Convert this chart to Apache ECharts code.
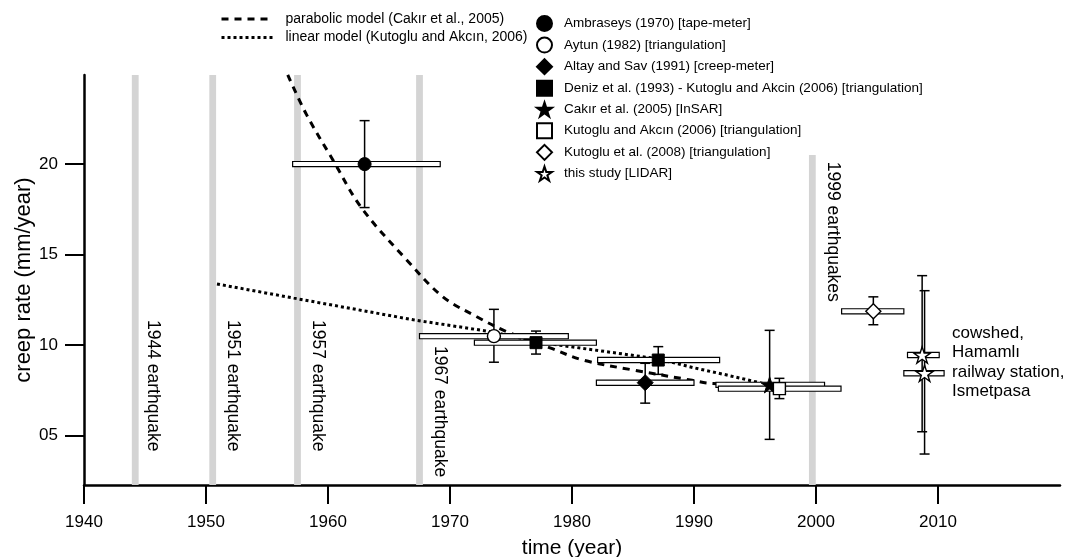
<!DOCTYPE html>
<html><head><meta charset="utf-8">
<script src="https://cdn.jsdelivr.net/npm/echarts@6/dist/echarts.min.js"></script>
<style>html,body{margin:0;padding:0;background:#fff}#c{width:1068px;height:557px}</style>
</head><body><div id="c"></div>
<script>
const FONT = "'Liberation Sans', Arial, Helvetica, sans-serif";

// measurement rows: [year, creepRate, rateLow, rateHigh, periodFrom, periodTo]
const ambraseys   = [[1963.0, 20.0, 17.6, 22.4, 1957.1, 1969.2]];
const aytun       = [[1973.6, 10.5, 9.06, 11.98, 1967.5, 1979.7]];
const altaySav    = [[1986.0, 7.93, 6.8, 9.0, 1982.0, 1990.0]];
const deniz       = [[1977.05, 10.14, 9.51, 10.78, 1972.0, 1982.0],
                     [1987.07, 9.18, 8.39, 9.92, 1982.1, 1992.1]];
const cakir       = [[1996.2, 7.81, 4.8, 10.82, 1991.8, 2000.7]];
const kutoglu2006 = [[1997.0, 7.6, 7.05, 8.17, 1992.0, 2002.05]];
const kutoglu2008 = [[2004.7, 11.87, 11.13, 12.67, 2002.1, 2007.2]];
const lidar       = [[2008.7, 9.46, 5.22, 13.84, 2007.5, 2010.1],
                     [2008.9, 8.45, 3.99, 13.01, 2007.2, 2010.5]];

// model curves
const parabolicModel = [[1956.7, 24.93], [1958.25, 22.72], [1960.4, 20.23], [1962.75, 17.58],
  [1966.45, 14.71], [1969.4, 12.68], [1972.2, 11.57], [1974.65, 10.75], [1978.2, 9.85],
  [1980.9, 9.18], [1985.0, 8.63], [1989.7, 8.08], [1991.3, 7.9], [1996.2, 7.8]];
const linearModel = [[1950.9, 13.38], [1957.2, 12.6], [1967.0, 11.4], [1973.3, 10.75],
  [1977.1, 10.2], [1979.0, 10.0], [1987.0, 9.25], [1990.0, 8.75], [1992.7, 8.35], [1996.2, 7.8]];

// earthquakes
const quakeYears = [1944.2, 1950.55, 1957.5, 1967.5, 1999.7];
const quakeTops  = [24.92, 24.92, 24.92, 24.92, 20.5];
const quakeLabels = ['1944 earthquake', '1951 earthquake', '1957 earthquake', '1967 earthquake', '1999 earthquakes'];
const quakeLabelX = [1945.66, 1952.24, 1959.2, 1969.18, 2001.39];
const quakeLabelY = [11.39, 11.39, 11.39, 9.96, 20.13];

const siteNotes  = ['cowshed,', 'Hamamlı', 'railway station,', 'Ismetpasa'];
const siteNoteX  = [2011.15, 2011.15, 2011.15, 2011.15];
const siteNoteY  = [10.68, 9.63, 8.53, 7.48];

const yTicks = [5, 10, 15, 20];
const X_MIN = 1940, X_MAX = 2020, Y_MIN = 2.28, Y_MAX = 24.92;

const names = {
  parab: 'parabolic model (Cakır et al., 2005)',
  lin: 'linear model (Kutoglu and Akcın, 2006)',
  amb: 'Ambraseys (1970) [tape-meter]',
  ayt: 'Aytun (1982) [triangulation]',
  alt: 'Altay and Sav (1991) [creep-meter]',
  den: 'Deniz et al. (1993) - Kutoglu and Akcin (2006) [triangulation]',
  cak: 'Cakır et al. (2005) [InSAR]',
  k06: 'Kutoglu and Akcın (2006) [triangulation]',
  k08: 'Kutoglu et al. (2008) [triangulation]',
  lid: 'this study [LIDAR]'
};

const STAR = 'path://M100,0 L122.45,69.1 L195.1,69.1 L136.3,111.8 L158.8,180.9 L100,138.2 L41.2,180.9 L63.7,111.8 L4.9,69.1 L77.55,69.1 Z';
const allRows = [].concat(ambraseys, aytun, altaySav, deniz, cakir, kutoglu2006, kutoglu2008, lidar);

const filled = { color: '#000', borderColor: '#000', borderWidth: 1, opacity: 1 };
const open = { color: '#fff', borderColor: '#000', borderWidth: 1.4, opacity: 1 };

function scatter(name, rows, symbol, size, style) {
  return { type: 'scatter', name, data: rows.map(r => [r[0], r[1]]), symbol, symbolSize: size,
    symbolKeepAspect: true, itemStyle: style, z: 5, emphasis: { disabled: true }, silent: true };
}

const chart = echarts.init(document.getElementById('c'), null, { renderer: 'canvas' });
chart.setOption({
  animation: false,
  backgroundColor: '#fff',
  textStyle: { fontFamily: FONT, color: '#000' },
  grid: { left: 84, right: 8, top: 75, bottom: 72, containLabel: false, outerBoundsMode: 'none' },
  legend: [{
    orient: 'vertical', left: 215, top: 7, itemWidth: 52, itemHeight: 14, itemGap: 4.6,
    selectedMode: false, lineStyle: { width: 3 }, itemStyle: { opacity: 0 },
    textStyle: { fontSize: 14, fontFamily: FONT, color: '#000', padding: [0, 0, 0, 7] },
    data: [names.parab, names.lin]
  }, {
    orient: 'vertical', left: 531, top: 10, itemWidth: 15, itemHeight: 15, itemGap: 4.6,
    selectedMode: false,
    textStyle: { fontSize: 13.5, fontFamily: FONT, color: '#000', padding: [0, 0, 0, 7] },
    data: [names.amb, names.ayt, names.alt, names.den, names.cak, names.k06, names.k08, names.lid]
  }],
  xAxis: {
    type: 'value', min: X_MIN, max: X_MAX, interval: 10,
    axisLine: { onZero: false, lineStyle: { color: '#000', width: 2.5 } },
    axisTick: { length: 19, lineStyle: { color: '#000', width: 2 } },
    axisLabel: { fontSize: 17, color: '#000', margin: 29, fontFamily: FONT, showMaxLabel: false,
      formatter: v => (v >= X_MAX ? '' : String(v)) },
    splitLine: { show: false },
    name: 'time (year)', nameLocation: 'middle', nameGap: 53, nameMoveOverlap: false,
    nameTextStyle: { fontSize: 21, color: '#000', fontFamily: FONT }
  },
  yAxis: {
    type: 'value', min: Y_MIN, max: Y_MAX,
    axisLine: { onZero: false, lineStyle: { color: '#000', width: 2.5 } },
    axisTick: { length: 19, customValues: yTicks, lineStyle: { color: '#000', width: 2 } },
    axisLabel: { fontSize: 17, color: '#000', margin: 26, fontFamily: FONT, customValues: yTicks,
      formatter: v => (v < 10 ? '0' + v : String(v)) },
    splitLine: { show: false },
    name: 'creep rate (mm/year)', nameLocation: 'middle', nameGap: 49, nameMoveOverlap: false,
    nameTextStyle: { fontSize: 22, color: '#000', fontFamily: FONT }
  },
  series: [
    { type: 'custom', name: 'quakes', silent: true, z: 1,
      data: quakeYears.map((y, i) => [y, quakeTops[i]]),
      encode: { x: 0, y: 1 },
      renderItem: (params, api) => {
        const t = api.coord([api.value(0), api.value(1)]);
        const b = api.coord([api.value(0), Y_MIN]);
        return { type: 'rect', shape: { x: t[0] - 3.4, y: t[1], width: 6.8, height: b[1] - t[1] },
          style: { fill: '#d4d4d4' } };
      }
    },
    { type: 'custom', name: 'quakeText', silent: true, z: 2,
      data: quakeLabelX.map((x, i) => [x, quakeLabelY[i]]),
      encode: { x: 0, y: 1 },
      renderItem: (params, api) => {
        const p = api.coord([api.value(0), api.value(1)]);
        return { type: 'text', x: p[0], y: p[1], rotation: -Math.PI / 2,
          style: { text: quakeLabels[params.dataIndex], fontSize: 17.5, fontFamily: FONT, fill: '#000',
            align: 'left', verticalAlign: 'middle' } };
      }
    },
    { type: 'custom', name: 'siteText', silent: true, z: 2, clip: false,
      data: siteNoteX.map((x, i) => [x, siteNoteY[i]]),
      encode: { x: 0, y: 1 },
      renderItem: (params, api) => {
        const p = api.coord([api.value(0), api.value(1)]);
        return { type: 'text', x: p[0], y: p[1],
          style: { text: siteNotes[params.dataIndex], fontSize: 17, fontFamily: FONT, fill: '#000',
            align: 'left', verticalAlign: 'middle' } };
      }
    },
    { type: 'line', name: names.parab, data: parabolicModel, symbol: 'none', smooth: 0.35, z: 3, silent: true,
      lineStyle: { color: '#000', width: 3, type: [7, 6] }, itemStyle: { color: '#000' } },
    { type: 'line', name: names.lin, data: linearModel, symbol: 'none', z: 3, silent: true,
      lineStyle: { color: '#000', width: 3, type: [3, 3] }, itemStyle: { color: '#000' } },
    { type: 'custom', name: 'errorBars', silent: true, z: 4,
      data: allRows, encode: { x: 0, y: 1 },
      renderItem: (params, api) => {
        const x = api.value(0);
        const a = api.coord([x, api.value(3)]), b = api.coord([x, api.value(2)]);
        const st = { stroke: '#000', lineWidth: 1.5 };
        return { type: 'group', children: [
          { type: 'line', shape: { x1: a[0], y1: a[1], x2: b[0], y2: b[1] }, style: st },
          { type: 'line', shape: { x1: a[0] - 5, y1: a[1], x2: a[0] + 5, y2: a[1] }, style: st },
          { type: 'line', shape: { x1: b[0] - 5, y1: b[1], x2: b[0] + 5, y2: b[1] }, style: st }
        ] };
      }
    },
    { type: 'custom', name: 'periods', silent: true, z: 4,
      data: allRows, encode: { x: 0, y: 1 },
      renderItem: (params, api) => {
        const l = api.coord([api.value(4), api.value(1)]), r = api.coord([api.value(5), api.value(1)]);
        return { type: 'rect', shape: { x: l[0], y: l[1] - 2.6, width: r[0] - l[0], height: 5.2 },
          style: { fill: '#fff', stroke: '#000', lineWidth: 1.2 } };
      }
    },
    scatter(names.amb, ambraseys, 'circle', 13, filled),
    scatter(names.ayt, aytun, 'circle', 13, open),
    scatter(names.alt, altaySav, 'diamond', 16, filled),
    scatter(names.den, deniz, 'rect', 12, filled),
    scatter(names.cak, cakir, STAR, 17, filled),
    scatter(names.k06, kutoglu2006, 'rect', 12, open),
    scatter(names.k08, kutoglu2008, 'diamond', 15, open),
    scatter(names.lid, lidar, STAR, 17, open)
  ]
});
</script></body></html>
